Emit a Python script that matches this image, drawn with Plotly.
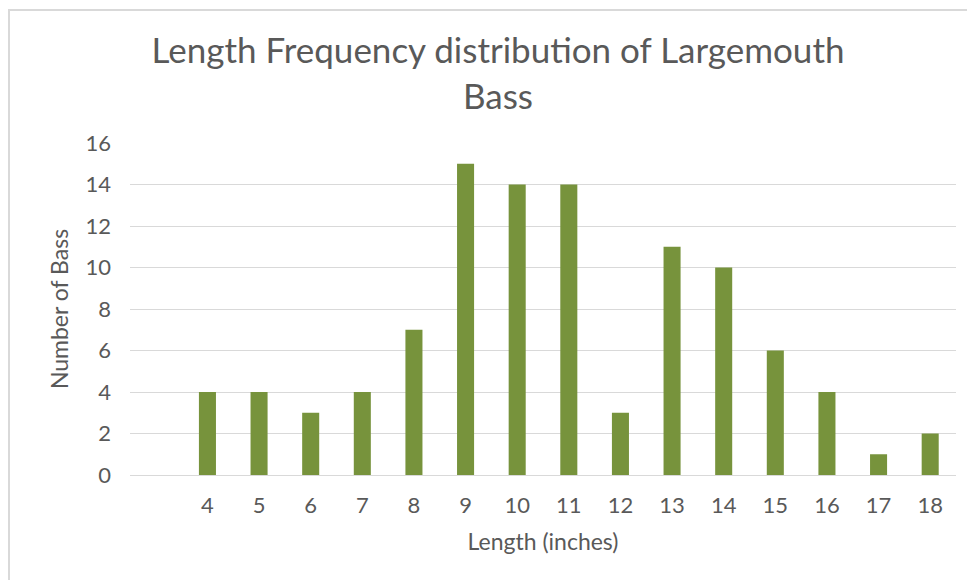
import plotly.graph_objects as go

lengths = [4, 5, 6, 7, 8, 9, 10, 11, 12, 13, 14, 15, 16, 17, 18]
counts = [4, 4, 3, 4, 7, 15, 14, 14, 3, 11, 10, 6, 4, 1, 2]
y_ticks = [0, 2, 4, 6, 8, 10, 12, 14, 16]

text_color = "#595959"
grid_color = "#D9D9D9"
font_family = "Lato"

W, H = 975, 580
ML, MR, MT, MB = 122, 27, 135, 113
PW, PH = W - ML - MR, H - MT - MB

def px_x(x):
    return (x - ML) / PW

def px_y(y):
    return (H - MB - y) / PH

fig = go.Figure()
fig.add_trace(go.Bar(
    x=lengths, y=counts,
    marker=dict(color="#77933C", line=dict(width=0)),
    width=0.33,
    hoverinfo="x+y",
))

fig.update_layout(
    width=W, height=H,
    margin=dict(l=ML, r=MR, t=MT, b=MB),
    paper_bgcolor="white", plot_bgcolor="white",
    showlegend=False,
    font=dict(family=font_family, color=text_color),
    title=dict(
        text="Length Frequency distribution of Largemouth<br>Bass",
        x=490 / W, xanchor="center", y=1 - 55 / H, yanchor="top",
        font=dict(size=35, color=text_color, family=font_family),
    ),
    xaxis=dict(
        range=[2.5, 18.5],
        tickvals=lengths,
        ticktext=[str(v) for v in lengths],
        showgrid=False, zeroline=False,
        showline=True, linecolor=grid_color, linewidth=1,
        ticks="", ticklabelstandoff=11,
        tickfont=dict(size=22, color=text_color),
        title=dict(text="Length (inches)", font=dict(size=23, color=text_color), standoff=16),
        fixedrange=True,
    ),
    yaxis=dict(
        range=[0, 16],
        tickvals=y_ticks,
        showgrid=True, gridcolor=grid_color, gridwidth=1,
        zeroline=False, showline=False,
        ticks="", ticklabelstandoff=18,
        tickfont=dict(size=22, color=text_color),
        title=dict(text="Number of Bass", font=dict(size=23, color=text_color), standoff=10),
        fixedrange=True,
    ),
    shapes=[dict(
        type="rect", xref="paper", yref="paper",
        x0=px_x(1), x1=px_x(W + 20),
        y0=px_y(H + 20), y1=px_y(2),
        line=dict(color="#D9D9D9", width=2), fillcolor="rgba(0,0,0,0)",
        layer="below",
    )],
)

fig.write_html("out.html")
